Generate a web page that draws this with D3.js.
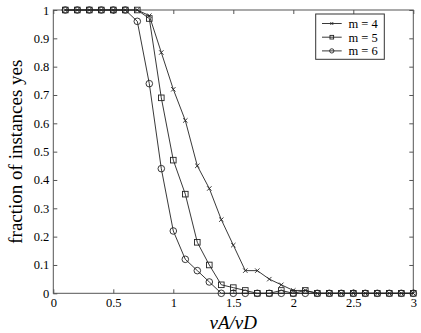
<!DOCTYPE html>
<html><head><meta charset="utf-8">
<script src="https://cdn.jsdelivr.net/npm/d3@7"></script>
<style>body{margin:0;background:#fff} svg{display:block} text{font-family:"Liberation Serif","Times New Roman",serif;fill:#000}</style>
</head><body><svg id="c" width="421" height="333"></svg>
<script>
const xValues = [0.1,0.2,0.3,0.4,0.5,0.6,0.7,0.8,0.9,1.0,1.1,1.2,1.3,1.4,1.5,1.6,1.7,1.8,1.9,2.0,2.1,2.2,2.3,2.4,2.5,2.6,2.7,2.8,2.9,3.0];
const m4 = [1,1,1,1,1,1,1,0.98,0.85,0.72,0.61,0.45,0.37,0.26,0.17,0.08,0.08,0.05,0.03,0.01,0.01,0,0,0,0,0,0,0,0,0];
const m5 = [1,1,1,1,1,1,1,0.97,0.69,0.47,0.35,0.18,0.10,0.03,0.02,0.01,0,0,0.01,0,0.01,0,0,0,0,0,0,0,0,0];
const m6 = [1,1,1,1,1,1,0.96,0.74,0.44,0.22,0.12,0.08,0.04,0,0,0,0,0,0,0,0,0,0,0,0,0,0,0,0,0];
const seriesNames = ["m = 4","m = 5","m = 6"];
const markerTypes = ["x","square","circle"];
const xTicks = [0,0.5,1,1.5,2,2.5,3];
const yTicks = [0,0.1,0.2,0.3,0.4,0.5,0.6,0.7,0.8,0.9,1];
const xLabel = "vA/vD";
const yLabel = "fraction of instances yes";

const series = [m4,m5,m6].map((v,i)=>({name:seriesNames[i],marker:markerTypes[i],values:v}));

const svg = d3.select("#c");
const L=53.3, R=413.3, T=10, B=293.3;
const x = d3.scaleLinear().domain([0,3]).range([L,R]);
const y = d3.scaleLinear().domain([0,1]).range([B,T]);
const axisColor = "#555";
const tickLen = 4;
const serif = "'Liberation Serif','Times New Roman',serif";

// frame
svg.append("rect").attr("x",L).attr("y",T).attr("width",R-L).attr("height",B-T)
  .attr("fill","none").attr("stroke",axisColor).attr("stroke-width",1);

function styleAxis(g){
  g.attr("font-family",serif).attr("font-size",12.5);
  g.select(".domain").remove();
  g.selectAll(".tick line").attr("stroke",axisColor);
  g.selectAll(".tick text").style("font-family",serif).style("font-size","12.5px").attr("fill","#000");
}
const fmt = d=>d3.format("")(+d.toFixed(1));
svg.append("g").attr("transform",`translate(0,${B})`)
  .call(d3.axisBottom(x).tickValues(xTicks).tickFormat(fmt).tickSizeInner(-tickLen).tickSizeOuter(0).tickPadding(5))
  .call(styleAxis);
svg.append("g").attr("transform",`translate(0,${T})`)
  .call(d3.axisTop(x).tickValues(xTicks).tickFormat("").tickSizeInner(-tickLen).tickSizeOuter(0))
  .call(styleAxis);
svg.append("g").attr("transform",`translate(${L},0)`)
  .call(d3.axisLeft(y).tickValues(yTicks).tickFormat(fmt).tickSizeInner(-tickLen).tickSizeOuter(0).tickPadding(4))
  .call(styleAxis);
svg.append("g").attr("transform",`translate(${R},0)`)
  .call(d3.axisRight(y).tickValues(yTicks).tickFormat("").tickSizeInner(-tickLen).tickSizeOuter(0))
  .call(styleAxis);

const lineGen = d3.line().x((d,i)=>x(xValues[i])).y(d=>y(d));
const lineColor = "#222";

function drawMarker(g, type, cx, cy, k){
  k = k || 1;
  if(type==="x"){
    const s=2.2*k;
    g.append("path").attr("d",`M${cx-s},${cy-s}L${cx+s},${cy+s}M${cx-s},${cy+s}L${cx+s},${cy-s}`)
      .attr("stroke",lineColor).attr("stroke-width",0.9).attr("fill","none");
  } else if(type==="square"){
    const s=2.8*k;
    g.append("rect").attr("x",cx-s).attr("y",cy-s).attr("width",2*s).attr("height",2*s)
      .attr("stroke",lineColor).attr("stroke-width",0.9).attr("fill","none");
  } else {
    g.append("circle").attr("cx",cx).attr("cy",cy).attr("r",3.3*k)
      .attr("stroke",lineColor).attr("stroke-width",0.9).attr("fill","none");
  }
}

series.forEach(s=>{
  const g = svg.append("g");
  g.append("path").datum(s.values).attr("d",lineGen).attr("fill","none")
    .attr("stroke",lineColor).attr("stroke-width",0.9);
  s.values.forEach((v,i)=>drawMarker(g,s.marker,x(xValues[i]),y(v)));
});

// legend
const lg = svg.append("g");
lg.append("rect").attr("x",315.7).attr("y",14).attr("width",68.6).attr("height",45.3)
  .attr("fill","#fff").attr("stroke","#333").attr("stroke-width",1);
series.forEach((s,i)=>{
  const yy = 23.5 + i*13.7;
  lg.append("line").attr("x1",322).attr("x2",341.7).attr("y1",yy).attr("y2",yy)
    .attr("stroke",lineColor).attr("stroke-width",0.9);
  drawMarker(lg,s.marker,331.8,yy,0.65);
  lg.append("text").attr("x",348.5).attr("y",yy+4.3).style("font-size","12.5px").text(s.name);
});

// axis labels
svg.append("text").attr("x",(L+R)/2).attr("y",328.5).attr("text-anchor","middle")
  .style("font-size","19px").style("font-style","italic").text(xLabel);
svg.append("text").attr("transform",`translate(22,${(T+B)/2}) rotate(-90)`).attr("text-anchor","middle")
  .style("font-size","19px").text(yLabel);
</script></body></html>
